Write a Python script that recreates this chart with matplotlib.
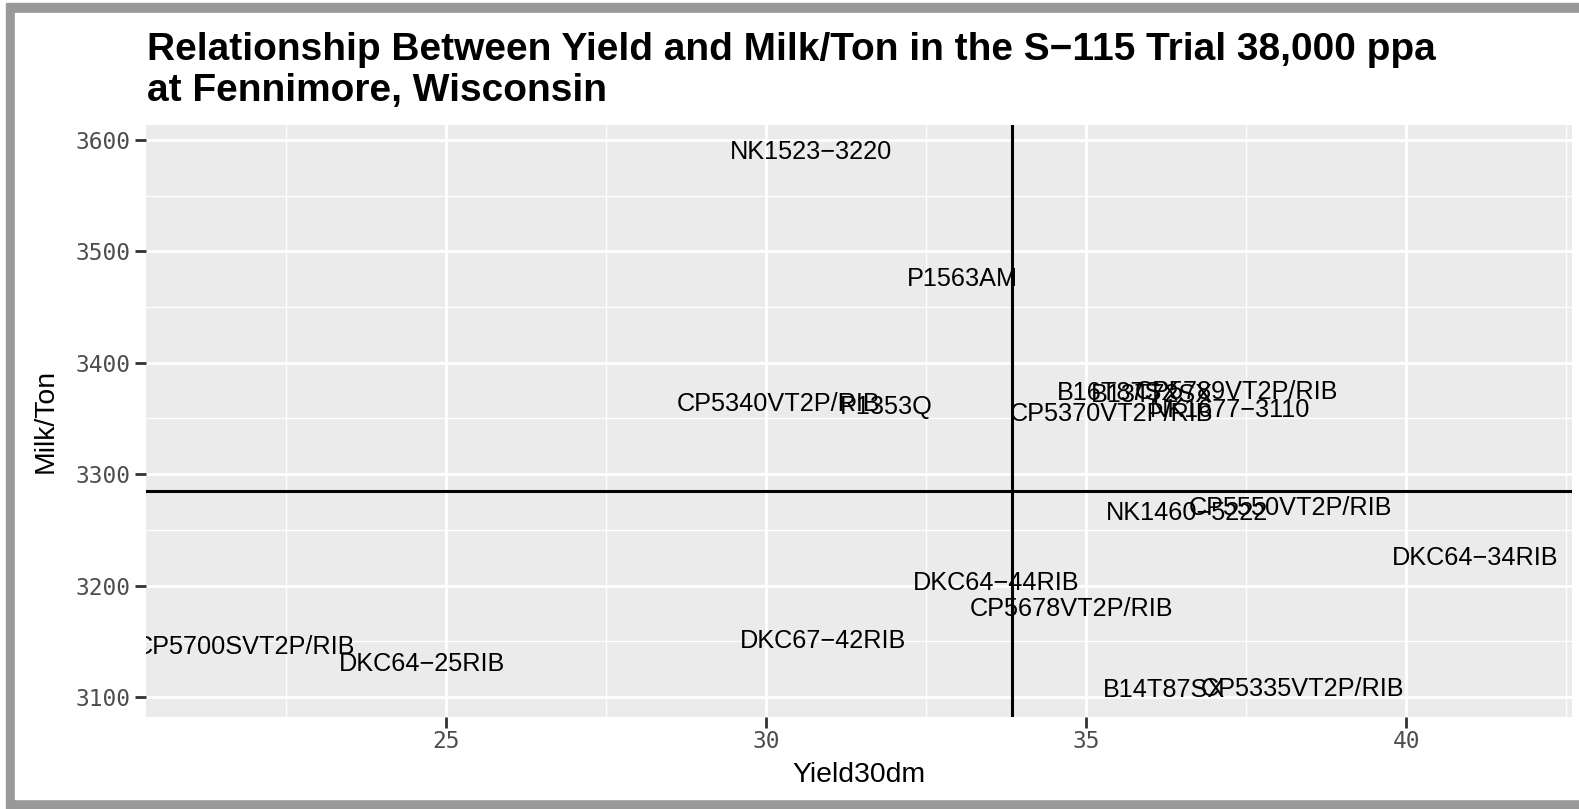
import matplotlib.pyplot as plt
from matplotlib.patches import Rectangle
from matplotlib.ticker import MultipleLocator

# hybrid names with (Yield30dm, Milk/Ton)
hybrids = [
    "NK1523-3220", "P1563AM", "CP5340VT2P/RIB", "P1353Q", "CP5370VT2P/RIB",
    "B16T87SX", "B13T72SX", "CP5789VT2P/RIB", "NK1677-3110", "NK1460-5222",
    "CP5550VT2P/RIB", "DKC64-34RIB", "DKC64-44RIB", "CP5678VT2P/RIB",
    "DKC67-42RIB", "CP5700SVT2P/RIB", "DKC64-25RIB", "B14T87SX",
    "CP5335VT2P/RIB",
]
yield30 = [30.70, 33.07, 30.19, 31.88, 35.39, 35.50, 36.02, 37.35, 37.24,
           36.58, 38.19, 41.07, 33.59, 34.77, 30.89, 21.85, 24.62, 36.22,
           38.38]
milk_ton = [3589, 3475, 3363, 3360, 3354, 3373, 3371, 3374, 3358, 3265,
            3270, 3225, 3202, 3179, 3150, 3145, 3130, 3106, 3107]
mean_yield = 33.84
mean_milk = 3285

W, H = 1579, 809
fig = plt.figure(figsize=(W / 100, H / 100), dpi=100)
fig.patch.set_facecolor("white")

# gray frame round the picture
fig.patches.append(Rectangle((6 / W, 0), 1 - 6 / W, 1 - 3 / H,
                             transform=fig.transFigure, color="#999999", zorder=-10))
fig.patches.append(Rectangle((15 / W, 10 / H), 1 - 15 / W, 1 - 13 / H - 10 / H,
                             transform=fig.transFigure, color="white", zorder=-9))

ax = fig.add_axes([146 / W, 1 - 717 / H, (1572 - 146) / W, (717 - 125) / H])
ax.set_facecolor("#EBEBEB")
for s in ax.spines.values():
    s.set_visible(False)

ax.set_xlim(20.31, 42.59)
ax.set_ylim(3082, 3613.5)
ax.xaxis.set_major_locator(MultipleLocator(5))
ax.xaxis.set_minor_locator(MultipleLocator(2.5))
ax.yaxis.set_major_locator(MultipleLocator(100))
ax.yaxis.set_minor_locator(MultipleLocator(50))
ax.grid(which="major", color="white", linewidth=2.0)
ax.grid(which="minor", color="white", linewidth=1.0)
ax.set_axisbelow(True)
ax.tick_params(which="major", length=8, width=2, color="#333333",
               labelcolor="#4D4D4D", labelsize=16.5, pad=3)
ax.tick_params(axis="x", which="major", pad=1)
ax.tick_params(which="minor", length=0)
for lab in ax.get_xticklabels() + ax.get_yticklabels():
    lab.set_family("DejaVu Sans Mono")

ax.axvline(mean_yield, color="black", linewidth=2.2)
ax.axhline(mean_milk, color="black", linewidth=2.2)

for name, xv, yv in zip(hybrids, yield30, milk_ton):
    ax.text(xv, yv, name.replace("-", "\u2212"), ha="center", va="center",
            fontsize=18.2, family="Liberation Sans", color="black", clip_on=True)

ax.set_xlabel("Yield30dm", fontsize=20.4, family="Liberation Sans", labelpad=7)
ax.set_ylabel("Milk/Ton", fontsize=20.4, family="Liberation Sans", labelpad=12)

fig.text(147 / W, 1 - 60 / H,
         "Relationship Between Yield and Milk/Ton in the S\u2212115 Trial 38,000 ppa",
         fontsize=28, fontweight="bold", family="Liberation Sans",
         ha="left", va="baseline")
fig.text(147 / W, 1 - 101 / H, "at Fennimore, Wisconsin",
         fontsize=28, fontweight="bold", family="Liberation Sans",
         ha="left", va="baseline")

fig.savefig("out.png", dpi=100)
